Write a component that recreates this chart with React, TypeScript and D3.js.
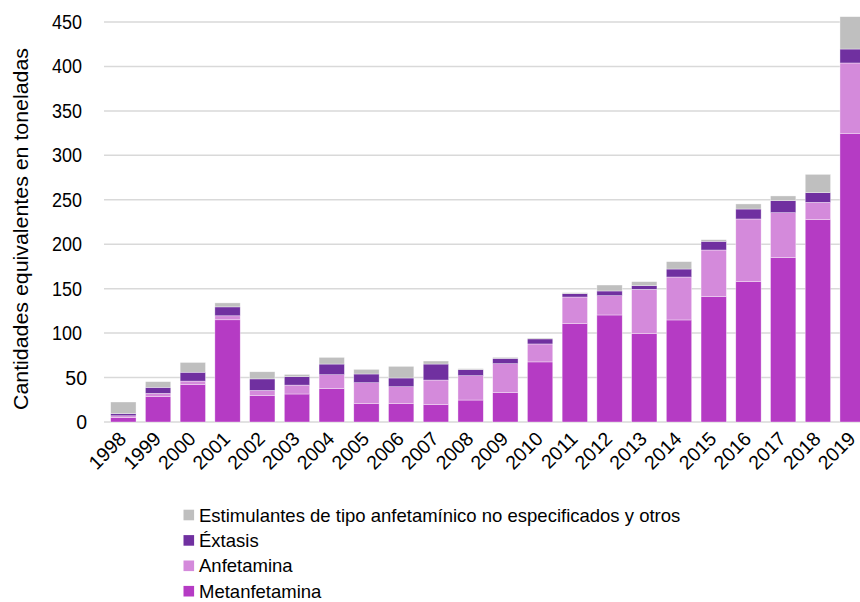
import React from "react";
import * as d3 from "d3";

const years = ["1998","1999","2000","2001","2002","2003","2004","2005","2006","2007","2008","2009","2010","2011","2012","2013","2014","2015","2016","2017","2018","2019"];
const metanfetamina = [5, 28.5, 42, 115, 30, 31.5, 37.5, 20.6, 20.6, 19.5, 24.7, 33, 67.6, 110.6, 120.4, 99.4, 114.8, 141, 157.9, 184.9, 227.6, 324.8];
const anfetamina = [2, 3.7, 4, 4.5, 5.5, 10, 15.7, 23.6, 19.1, 27.7, 27.4, 32.6, 20.2, 30, 21.7, 49.9, 48.3, 52.5, 70.5, 50.6, 19.5, 79.1];
const extasis = [2.5, 6.8, 10, 10, 13, 9.5, 12, 9.8, 9.8, 18, 6.8, 6, 5.7, 3.8, 5.3, 4.1, 9, 9.8, 11.2, 13.5, 10.9, 15.7];
const otros = [13, 6.4, 11, 4.5, 8, 2.5, 7.5, 5.2, 13.1, 3.4, 1.1, 1.1, 1, 1.1, 6.7, 4.5, 8.3, 1.8, 5.7, 5.3, 20.6, 36.4];
const yTicks = [0, 50, 100, 150, 200, 250, 300, 350, 400, 450];
const seriesNames = ["Metanfetamina", "Anfetamina", "Éxtasis", "Estimulantes de tipo anfetamínico no especificados y otros"];
const seriesColors = ["#B53BC4", "#D48ADB", "#7030A0", "#BFBFBF"];
const legendOrder = [3, 2, 1, 0];

export default function App() {
  const W = 860, H = 602;
  const font = "'Liberation Sans', Arial, sans-serif";
  const x = d3.scaleBand<string>().domain(years).range([106, 870]).paddingInner(0.27).paddingOuter(0.135);
  const y = d3.scaleLinear().domain([0, 450]).range([422, 22]);
  const rows = years.map((yr, i) => ({ yr, s0: metanfetamina[i], s1: anfetamina[i], s2: extasis[i], s3: otros[i] }));
  const stack = d3.stack<any>().keys(["s0", "s1", "s2", "s3"]);
  const layers = stack(rows);
  return (
    <svg width={W} height={H} style={{ position: "absolute", left: 0, top: 0, background: "#fff" }} fontFamily={font}>
      {yTicks.map(t => (
        <g key={t}>
          <line x1={104} x2={W} y1={y(t)} y2={y(t)} stroke="#D9D9D9" strokeWidth={1.5} />
          <text x={t >= 100 ? 82 : 87} y={y(t)} dy="0.36em" textAnchor="end" fontSize={19.5} fill="#000"
            {...(t >= 100 ? { textLength: 30, lengthAdjust: "spacingAndGlyphs" } : {})}>{t}</text>
        </g>
      ))}
      <text transform={`translate(28,229) rotate(-90)`} textAnchor="middle" fontSize={20.5} fill="#000"
        textLength={362} lengthAdjust="spacingAndGlyphs">Cantidades equivalentes en toneladas</text>
      {layers.map((layer, li) => (
        <g key={li} fill={seriesColors[li]}>
          {layer.map((d, i) => (
            <rect key={i} x={x(years[i])} width={x.bandwidth()} y={y(d[1])} height={y(d[0]) - y(d[1])} stroke="#fff" strokeOpacity={0.6} strokeWidth={0.6} />
          ))}
        </g>
      ))}
      {years.map(yr => {
        const cx = (x(yr) as number) + x.bandwidth() / 2;
        return (
          <text key={yr} transform={`translate(${cx + 4},${440}) rotate(-45)`} textAnchor="end" fontSize={19.5} fill="#000">{yr}</text>
        );
      })}
      {legendOrder.map((si, k) => {
        const cy = 515 + k * 25.4;
        return (
          <g key={si}>
            <rect x={183.5} y={cy - 5.3} width={10.6} height={10.6} fill={seriesColors[si]} />
            <text x={199} y={cy} dy="0.36em" fontSize={18.5} fill="#000">{seriesNames[si]}</text>
          </g>
        );
      })}
    </svg>
  );
}
